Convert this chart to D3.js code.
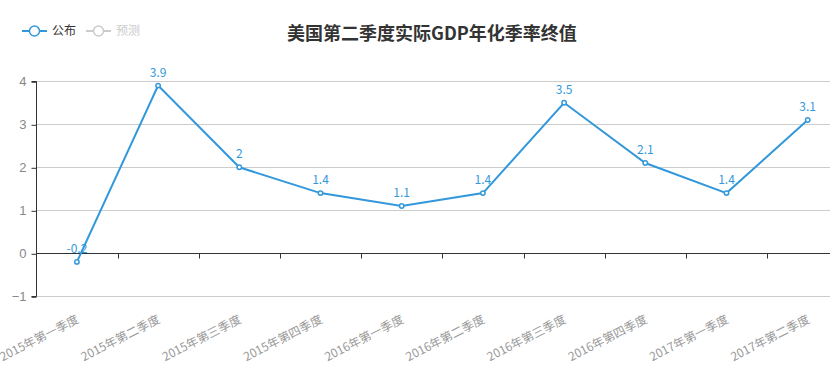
<!DOCTYPE html>
<html>
<head>
<meta charset="utf-8">
<script src="https://cdn.jsdelivr.net/npm/d3@7"></script>
<style>
  body { margin: 0; background: #fff; }
  svg { font-family: "Microsoft YaHei", "Noto Sans CJK SC", sans-serif; }
</style>
</head>
<body>
<div id="chart"></div>
<script>
// quarters and GDP annualised q/q rate (final)
var quarters = ["2015年第一季度", "2015年第二季度", "2015年第三季度", "2015年第四季度",
                "2016年第一季度", "2016年第二季度", "2016年第三季度", "2016年第四季度",
                "2017年第一季度", "2017年第二季度"];
var published = [-0.2, 3.9, 2, 1.4, 1.1, 1.4, 3.5, 2.1, 1.4, 3.1];
var yTicks = [-1, 0, 1, 2, 3, 4];
var legendNames = ["公布", "预测"];
var title = "美国第二季度实际GDP年化季率终值";

var W = 830, H = 378;
var margin = {top: 81, left: 36, bottom: 82};
var blue = "#3398DB";

var svg = d3.select("#chart").append("svg")
    .attr("width", W)
    .attr("height", H);

var x = d3.scaleBand()
    .domain(quarters)
    .range([margin.left + 0.3, margin.left + 0.3 + 812]);

var y = d3.scaleLinear()
    .domain([-1, 4])
    .range([H - margin.bottom + 0.3, margin.top + 0.3]);

// grid
svg.append("g").selectAll("line")
    .data(yTicks.filter(function(d) { return d !== 0; }))
  .enter().append("line")
    .attr("x1", margin.left).attr("x2", W)
    .attr("y1", function(d) { return Math.round(y(d)) + 0.5; })
    .attr("y2", function(d) { return Math.round(y(d)) + 0.5; })
    .attr("stroke", "#ccc");

// y axis
var yAxis = d3.axisLeft(y).tickValues(yTicks).tickFormat(d3.format("d")).tickSize(5).tickPadding(5);
var gy = svg.append("g")
    .attr("transform", "translate(" + (margin.left + 0.5) + ",0.5)")
    .call(yAxis);
gy.select(".domain").attr("stroke", "#333").attr("d", "M-5," + Math.round(y(4)) + "H0V" + Math.round(y(-1)) + "H-5");
gy.selectAll(".tick line").attr("stroke", "#333");
gy.selectAll(".tick text").attr("fill", "#888").style("font-size", "13px");

// x axis on zero
var xAxis = d3.axisBottom(x).tickSize(0).tickFormat("");
var y0 = Math.round(y(0)) + 0.5;
var gx = svg.append("g")
    .attr("transform", "translate(0," + y0 + ")")
    .call(xAxis);
gx.select(".domain").attr("stroke", "#333").attr("d", "M" + margin.left + ",0H" + W);
gx.selectAll(".bnd").data(quarters.slice(1)).enter().append("line")
    .attr("class", "bnd")
    .attr("x1", function(d) { return Math.round(x(d)) + 0.5; })
    .attr("x2", function(d) { return Math.round(x(d)) + 0.5; })
    .attr("y1", 0).attr("y2", 5)
    .attr("stroke", "#333");

// rotated category labels below the grid
svg.append("g").selectAll("text")
    .data(quarters)
  .enter().append("text")
    .attr("transform", function(d) {
      return "translate(" + (x(d) + x.bandwidth() / 2 + 1) + "," + (y(-1) + 22) + ") rotate(-27)";
    })
    .attr("text-anchor", "end")
    .attr("dy", "0.35em")
    .attr("fill", "#999")
    .style("font-size", "12px")
    .text(function(d) { return d; });

// line
var cx = function(d, i) { return x(quarters[i]) + x.bandwidth() / 2; };
var line = d3.line()
    .x(cx)
    .y(function(d) { return y(d); });

svg.append("path")
    .datum(published)
    .attr("fill", "none")
    .attr("stroke", blue)
    .attr("stroke-width", 2)
    .attr("d", line);

svg.append("g").selectAll("circle")
    .data(published)
  .enter().append("circle")
    .attr("cx", cx)
    .attr("cy", function(d) { return y(d); })
    .attr("r", 2.2)
    .attr("fill", "#fff")
    .attr("stroke", blue)
    .attr("stroke-width", 1.5);

svg.append("g").selectAll("text")
    .data(published)
  .enter().append("text")
    .attr("x", cx)
    .attr("y", function(d) { return y(d) - 9; })
    .attr("text-anchor", "middle")
    .attr("fill", blue)
    .style("font-size", "12px")
    .text(function(d) { return d; });

// title
svg.append("text")
    .attr("x", 432).attr("y", 40)
    .attr("text-anchor", "middle")
    .attr("fill", "#333")
    .style("font-size", "18px")
    .style("font-weight", "bold")
    .text(title);

// legend
var legendColors = [blue, "#ccc"];
var textColors = ["#333", "#ccc"];
var lg = svg.append("g").selectAll("g")
    .data(legendNames)
  .enter().append("g")
    .attr("transform", function(d, i) { return "translate(" + (22 + i * 64) + ",31)"; });
lg.append("line")
    .attr("x1", 0).attr("x2", 25)
    .attr("stroke", function(d, i) { return legendColors[i]; })
    .attr("stroke-width", 2);
lg.append("circle")
    .attr("cx", 12.5).attr("r", 5)
    .attr("fill", "#fff")
    .attr("stroke", function(d, i) { return legendColors[i]; })
    .attr("stroke-width", 1.5);
lg.append("text")
    .attr("x", 30).attr("dy", "0.35em")
    .attr("fill", function(d, i) { return textColors[i]; })
    .style("font-size", "12px")
    .text(function(d) { return d; });
</script>
</body>
</html>
